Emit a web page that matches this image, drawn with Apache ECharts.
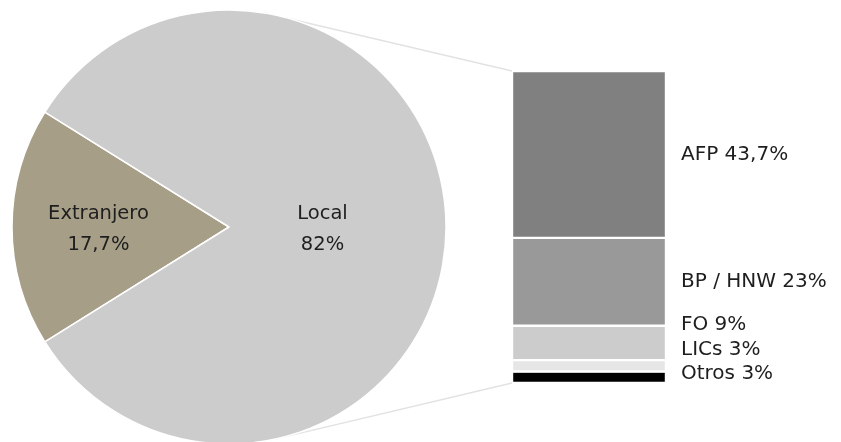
<!DOCTYPE html>
<html>
<head>
<meta charset="utf-8">
<script src="https://cdn.jsdelivr.net/npm/echarts@6/dist/echarts.min.js"></script>
<style>html,body{margin:0;padding:0;background:#fff}#c{width:841px;height:442px}</style>
</head>
<body>
<div id="c"></div>
<script>
// Pie data
const pieNames = ['Extranjero', 'Local'];
const pieLabels = ['17,7%', '82%'];
const pieValues = [17.7, 82];
// Breakdown of "Local"
const barNames = ['AFP', 'BP / HNW', 'FO', 'LICs', 'Otros'];
const barLabels = ['43,7%', '23%', '9%', '3%', '3%'];
const barValues = [43.7, 23, 9, 3, 3];

const pieColors = ['#a69e87', '#cccccc'];
const barColors = ['#808080', '#999999', '#cccccc', '#e6e6e6', '#000000'];
const barLabelOffsets = [0, 0, -18, -16, -3];
const pieLabelOffsets = [[-19, 2], [-18, 2]];

const FONT = 'DejaVu Sans';
const chart = echarts.init(document.getElementById('c'));
const pieTotal = pieValues.reduce((a, b) => a + b, 0);
const startAngle = 180 + pieValues[0] / pieTotal * 360 / 2;
const barTotal = barValues.reduce((a, b) => a + b, 0);
const pieCenter = [229, 227];
const pieR = 217;

const option = {
  animation: false,
  grid: { left: 512, top: 71, width: 154, height: 312 },
  xAxis: { type: 'category', data: ['Local'], show: false },
  yAxis: { type: 'value', inverse: true, min: 0, max: barTotal, show: false },
  series: [
    {
      type: 'pie',
      center: pieCenter,
      radius: pieR,
      startAngle: startAngle,
      clockwise: true,
      silent: true,
      itemStyle: { borderColor: '#fff', borderWidth: 1.5 },
      label: {
        position: 'inside',
        fontFamily: FONT, fontSize: 19.5, color: '#1e1e1e', lineHeight: 31,
        formatter: p => p.name + '\n' + pieLabels[p.dataIndex]
      },
      labelLine: { show: false },
      data: pieNames.map((n, i) => ({
        name: n, value: pieValues[i],
        itemStyle: { color: pieColors[i] },
        label: { offset: pieLabelOffsets[i] }
      }))
    }
  ].concat(barNames.map((n, i) => ({
    type: 'bar',
    name: n,
    stack: 'local',
    barWidth: '100%',
    silent: true,
    itemStyle: { color: barColors[i], borderColor: '#fff', borderWidth: 1.2 },
    label: {
      show: true, position: 'right', distance: 15,
      offset: [0, barLabelOffsets[i]],
      fontFamily: FONT, fontSize: 20, color: '#1e1e1e',
      formatter: () => n + ' ' + barLabels[i]
    },
    data: [barValues[i]]
  })))
};
chart.setOption(option);

// Connector lines from pie edge to the bar
const catX = chart.convertToPixel({ xAxisIndex: 0 }, 'Local');
const barLeft = catX - 154 / 2;
const yTop = chart.convertToPixel({ yAxisIndex: 0 }, 0);
const yBot = chart.convertToPixel({ yAxisIndex: 0 }, barTotal);
const ang = d => [pieCenter[0] + pieR * Math.cos(d * Math.PI / 180), pieCenter[1] + pieR * Math.sin(d * Math.PI / 180)];
const pTop = ang(-80.5), pBot = ang(77.5);
chart.setOption({
  graphic: [
    { type: 'line', z: -1, shape: { x1: pTop[0], y1: pTop[1], x2: barLeft, y2: yTop }, style: { stroke: '#e2e2e2', lineWidth: 1.5 } },
    { type: 'line', z: -1, shape: { x1: pBot[0], y1: pBot[1], x2: barLeft, y2: yBot }, style: { stroke: '#e2e2e2', lineWidth: 1.5 } }
  ]
});
</script>
</body>
</html>
